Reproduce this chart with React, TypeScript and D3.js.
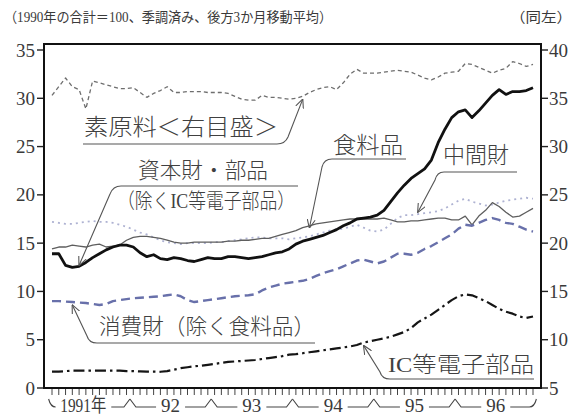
import React from 'react';
import * as d3 from 'd3';

const W = 574;
const H = 416;
const FRAME = { left: 44, right: 541, top: 44, bottom: 388 };

const titleLeft = '（1990年の合計＝100、季調済み、後方3か月移動平均）';
const titleRight = '（同左）';
const yearLabels = ['1991年', '92', '93', '94', '95', '96'];
const leftTicks = [0, 5, 10, 15, 20, 25, 30, 35];
const rightTicks = [5, 10, 15, 20, 25, 30, 35, 40];

// monthly values, Jan 1991 .. Dec 1996
// 素原料 (right axis)
const rawMaterials = [
  35.3, 36.2, 37.1, 36.2, 35.9, 33.9, 36.8, 36.6, 36.4, 36.2, 36.0, 36.0,
  36.1, 35.6, 35.1, 35.5, 35.8, 36.2, 35.6, 35.6, 35.7, 35.7, 35.7, 35.6,
  35.6, 35.6, 35.5, 35.2, 34.9, 34.8, 34.8, 35.3, 35.1, 35.1, 35.0, 34.9,
  35.0, 35.2, 35.6, 35.9, 36.1, 36.2, 35.9, 36.6, 37.5, 38.0, 37.6, 37.6,
  37.6, 37.7, 37.8, 37.9, 37.8, 37.7, 37.4, 37.1, 36.9, 37.2, 37.6, 37.7,
  37.8, 38.6, 38.5, 38.2, 37.9, 37.6, 37.9, 38.1, 38.8, 38.6, 38.3, 38.5,
];
// 資本財・部品（除くIC等電子部品）
const capitalGoods = [
  13.9, 13.9, 12.7, 12.5, 12.6, 13.0, 13.5, 13.9, 14.3, 14.6, 14.8, 14.8,
  14.6, 14.0, 13.6, 13.8, 13.4, 13.3, 13.5, 13.4, 13.2, 13.1, 13.3, 13.5,
  13.4, 13.4, 13.6, 13.6, 13.5, 13.4, 13.5, 13.6, 13.8, 14.0, 14.1, 14.4,
  14.9, 15.2, 15.4, 15.6, 15.8, 16.1, 16.4, 16.8, 17.1, 17.5, 17.6, 17.7,
  17.9, 18.4, 19.3, 20.2, 21.0, 21.7, 22.2, 22.7, 23.6, 25.4, 26.8, 28.0,
  28.6, 28.8, 28.0, 28.7, 29.5, 30.3, 30.9, 30.4, 30.7, 30.7, 30.8, 31.1,
];
// 食料品
const foodstuffs = [
  14.4, 14.6, 14.6, 14.8, 14.7, 14.6, 14.8, 14.9, 14.6, 14.7, 14.8, 15.3,
  15.6, 15.7, 15.7, 15.6, 15.5, 15.3, 15.1, 15.0, 15.0, 15.1, 15.1, 15.1,
  15.1, 15.1, 15.2, 15.2, 15.3, 15.3, 15.4, 15.5, 15.5, 15.7, 15.9, 16.1,
  16.3, 16.6, 16.8, 17.0, 17.1, 17.2, 17.3, 17.4, 17.5, 17.5, 17.5, 17.5,
  17.5, 17.6, 17.4, 17.2, 17.2, 17.3, 17.3, 17.4, 17.5, 17.6, 17.6, 17.4,
  17.4, 17.8, 16.9, 17.8, 18.4, 19.2, 18.8, 18.2, 17.7, 17.8, 18.2, 18.6,
];
// 中間財
const intermediateGoods = [
  17.2, 17.1, 17.0, 17.0, 17.1, 17.2, 17.3, 17.2, 17.2, 17.1, 16.9, 16.7,
  16.4, 16.1, 15.9, 15.6, 15.3, 15.1, 15.0, 14.9, 15.0, 15.0, 15.0, 15.0,
  15.1, 15.1, 15.2, 15.3, 15.4, 15.5, 15.6, 15.6, 15.5, 15.5, 15.5, 15.4,
  15.5, 15.6, 15.7, 15.9, 16.1, 16.3, 16.4, 16.5, 16.7, 16.9, 16.6, 16.3,
  16.2, 16.4, 17.0, 17.6, 17.9, 17.9, 18.0, 18.1, 18.2, 18.3, 18.6, 19.0,
  19.4, 19.6, 19.3, 19.1, 18.9, 19.0, 19.2, 19.4, 19.5, 19.6, 19.7, 19.6,
];
// 消費財（除く食料品）
const consumerGoods = [
  9.0, 9.0, 8.95, 8.9, 8.85, 8.8, 8.7, 8.6, 8.7, 9.0, 9.1, 9.2,
  9.3, 9.35, 9.4, 9.45, 9.5, 9.6, 9.7, 9.5, 9.1, 8.9, 9.0, 9.1,
  9.2, 9.3, 9.4, 9.5, 9.55, 9.6, 9.7, 10.1, 10.4, 10.6, 10.8, 10.9,
  11.0, 11.1, 11.3, 11.6, 11.9, 12.1, 12.3, 12.6, 12.9, 13.2, 13.3, 13.1,
  12.9, 13.1, 13.5, 13.9, 13.9, 13.8, 14.0, 14.4, 14.7, 15.1, 15.5, 15.9,
  16.5, 16.9, 16.8, 17.1, 17.4, 17.6, 17.4, 17.1, 17.0, 16.7, 16.4, 16.2,
];
// IC等電子部品
const icParts = [
  1.7, 1.7, 1.75, 1.8, 1.8, 1.8, 1.8, 1.8, 1.8, 1.8, 1.8, 1.75,
  1.75, 1.72, 1.7, 1.7, 1.68, 1.75, 1.9, 2.05, 2.15, 2.25, 2.3, 2.4,
  2.5, 2.6, 2.7, 2.75, 2.8, 2.85, 2.9, 3.0, 3.1, 3.2, 3.3, 3.45,
  3.5, 3.6, 3.7, 3.8, 3.9, 4.0, 4.1, 4.2, 4.3, 4.45, 4.7, 4.85,
  5.0, 5.15, 5.3, 5.55, 5.8, 6.2, 6.8, 7.2, 7.6, 8.1, 8.6, 9.1,
  9.5, 9.7, 9.6, 9.3, 9.0, 8.6, 8.2, 7.9, 7.7, 7.4, 7.25, 7.4,
];

const FONT = "'Liberation Serif', 'Noto Sans CJK JP', serif";
const TEXT = '#3a3a3a';

const x = d3.scaleLinear().domain([0, 71]).range([52, 533]);
const yL = d3.scaleLinear().domain([0, 35]).range([FRAME.bottom, 50]);
const yR = d3.scaleLinear().domain([5, 40]).range([FRAME.bottom, 50]);

type Series = {
  key: string;
  values: number[];
  scale: d3.ScaleLinear<number, number>;
  stroke: string;
  width: number;
  dash?: string;
};

const series: Series[] = [
  { key: 'raw', values: rawMaterials, scale: yR, stroke: '#6e6e6e', width: 1.3, dash: '4 3' },
  { key: 'inter', values: intermediateGoods, scale: yL, stroke: '#aeb2d2', width: 1.8, dash: '2 4' },
  { key: 'food', values: foodstuffs, scale: yL, stroke: '#5e5e5e', width: 1.3 },
  { key: 'consumer', values: consumerGoods, scale: yL, stroke: '#6870aa', width: 2.4, dash: '9 5' },
  { key: 'ic', values: icParts, scale: yL, stroke: '#151515', width: 2.2, dash: '11 4 2.5 4' },
  { key: 'capital', values: capitalGoods, scale: yL, stroke: '#111', width: 2.8 },
];

function App() {
  const months = d3.range(72);
  const lineGen = (vals: number[], sc: d3.ScaleLinear<number, number>) =>
    d3.line<number>().x((_, i) => x(i)).y((v) => sc(v))(vals) || '';

  const tipFor = (vals: number[], sc: d3.ScaleLinear<number, number>, m: number, off: number) =>
    [x(m), sc(vals[m]) + off] as [number, number];

  const tRaw = tipFor(rawMaterials, yR, 37, 3);
  const tFood = tipFor(foodstuffs, yL, 38, 2);
  const tInter = tipFor(intermediateGoods, yL, 54, -2);
  const tCap = tipFor(capitalGoods, yL, 4, -1);
  const tCons = tipFor(consumerGoods, yL, 3, 3);
  const tIc = tipFor(icParts, yL, 46, 3);

  const leader = { fill: 'none', stroke: '#555', strokeWidth: 1.1, markerEnd: 'url(#arr)' } as const;
  const noteText = { fill: '#404040', fontWeight: 300, dominantBaseline: 'central', lengthAdjust: 'spacingAndGlyphs' } as const;

  const boundaries = d3.range(7).map((i) => x(12 * i - 0.5));
  const yearLabelW = [46, 19, 19, 19, 19, 19];
  const bracketY = 407;
  const peakY = 399;

  return (
    <svg width={W} height={H} style={{ position: 'absolute', left: 0, top: 0, background: '#fff' }}
      fontFamily={FONT}>
      <defs>
        <marker id="arr" viewBox="0 0 10 10" refX="9.5" refY="5" markerWidth="9" markerHeight="9"
          markerUnits="userSpaceOnUse" orient="auto">
          <path d="M0,0.5 L10,5 L0,9.5" fill="none" stroke="#555" strokeWidth="1.2" />
        </marker>
      </defs>
      <rect width={W} height={H} fill="#fff" />

      {/* titles */}
      <text x={4} y={17} fontSize={14} fill={TEXT} dominantBaseline="central"
        textLength={328} lengthAdjust="spacingAndGlyphs">{titleLeft}</text>
      <text x={510} y={17} fontSize={14} fill={TEXT} dominantBaseline="central"
        textLength={62} lengthAdjust="spacingAndGlyphs">{titleRight}</text>

      {/* left axis */}
      {leftTicks.map((t) => (
        <g key={'l' + t}>
          <line x1={37} x2={FRAME.left} y1={yL(t)} y2={yL(t)} stroke="#222" strokeWidth={1.4} />
          <text x={35} y={yL(t)} fontSize={19} textAnchor="end" dominantBaseline="central" fill={TEXT}>{t}</text>
        </g>
      ))}
      {/* right axis */}
      {rightTicks.map((t) => (
        <g key={'r' + t}>
          <line x1={FRAME.right} x2={548} y1={yR(t)} y2={yR(t)} stroke="#222" strokeWidth={1.4} />
          <text x={549} y={yR(t)} fontSize={19} textAnchor="start" dominantBaseline="central" fill={TEXT}>{t}</text>
        </g>
      ))}
      {/* month ticks */}
      {months.map((m) => (
        <line key={'m' + m} x1={x(m)} x2={x(m)} y1={FRAME.bottom} y2={FRAME.bottom + 7} stroke="#444" strokeWidth={1} />
      ))}

      {/* year brackets */}
      {yearLabels.map((lab, i) => {
        const b0 = boundaries[i];
        const b1 = boundaries[i + 1];
        const cx = i === 0 ? (b0 + b1) / 2 - 6 : (b0 + b1) / 2;
        const w = yearLabelW[i];
        const lx0 = cx - w / 2 - 5;
        const lx1 = cx + w / 2 + 5;
        const left = i === 0
          ? `M${b0},${peakY} Q${b0 + 2},${bracketY} ${b0 + 7},${bracketY}`
          : `M${b0},${peakY} L${b0 + 6},${bracketY} L${lx0},${bracketY}`;
        const right = i === 5
          ? `M${lx1},${bracketY} L${b1 - 7},${bracketY} Q${b1 - 2},${bracketY} ${b1},${peakY}`
          : `M${lx1},${bracketY} L${b1 - 6},${bracketY} L${b1},${peakY}`;
        return (
          <g key={'y' + i}>
            <path d={left} fill="none" stroke="#444" strokeWidth={1.1} />
            <path d={right} fill="none" stroke="#444" strokeWidth={1.1} />
            <text x={cx} y={405} fontSize={19} textAnchor="middle" dominantBaseline="central" fill={TEXT}
              textLength={w} lengthAdjust="spacingAndGlyphs">{lab}</text>
          </g>
        );
      })}

      {/* series */}
      {series.map((s) => (
        <path key={s.key} d={lineGen(s.values, s.scale)} fill="none" stroke={s.stroke}
          strokeWidth={s.width} strokeDasharray={s.dash} strokeLinejoin="round" />
      ))}

      {/* frame */}
      <rect x={FRAME.left} y={FRAME.top} width={FRAME.right - FRAME.left} height={FRAME.bottom - FRAME.top}
        fill="none" stroke="#111" strokeWidth={2} />

      {/* annotations */}
      {/* 素原料 */}
      <text {...noteText} x={84} y={127} fontSize={23} textLength={194}>素原料＜右目盛＞</text>
      <path {...leader} d={`M83,144 L277,144 Q285,144 288,137 L${tRaw[0]},${tRaw[1]}`} />

      {/* 食料品 */}
      <text {...noteText} x={333} y={145} fontSize={23} textLength={70}>食料品</text>
      <path {...leader} d={`M406,159 L332,159 Q324,159 322,167 L${tFood[0]},${tFood[1]}`} />

      {/* 中間財 */}
      <text {...noteText} x={443} y={155} fontSize={23} textLength={66}>中間財</text>
      <path {...leader} d={`M517,172 L444,172 Q437,172 435,180 L${tInter[0]},${tInter[1]}`} />

      {/* 資本財・部品 */}
      <text {...noteText} x={138} y={170} fontSize={22} textLength={130}>資本財・部品</text>
      <text {...noteText} x={117} y={201} fontSize={21} textLength={178}>（除くIC等電子部品）</text>
      <path {...leader} d={`M298,186 L121,186 Q113,186 110,194 L${tCap[0]},${tCap[1]}`} />

      {/* 消費財 */}
      <text {...noteText} x={99} y={326} fontSize={22} textLength={216}>消費財（除く食料品）</text>
      <path {...leader} d={`M315,343 L97,343 Q89,343 87,336 L${tCons[0]},${tCons[1]}`} />

      {/* IC */}
      <text {...noteText} x={388} y={364} fontSize={22} textLength={146}>IC等電子部品</text>
      <path {...leader} d={`M534,379 L390,379 Q382,379 380,372 L${tIc[0]},${tIc[1]}`} />
    </svg>
  );
}

export default App;
